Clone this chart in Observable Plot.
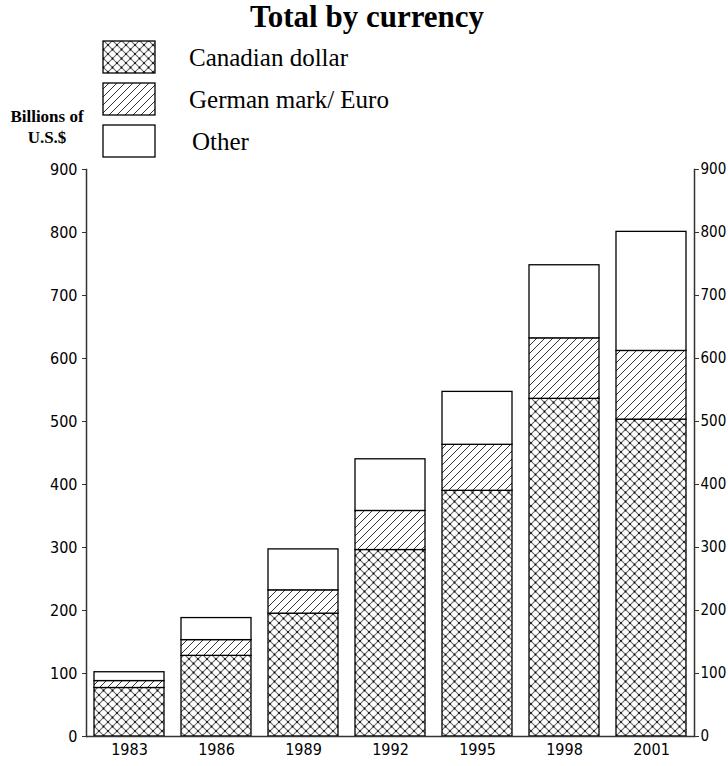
<!DOCTYPE html>
<html><head><meta charset="utf-8">
<script src="https://cdn.jsdelivr.net/npm/d3@7"></script>
<script src="https://cdn.jsdelivr.net/npm/@observablehq/plot@0.6"></script>
<style>
body{margin:0;background:#fff;}
#wrap{position:relative;width:728px;height:766px;overflow:hidden;background:#fff;}
#head{position:absolute;left:0;top:0;z-index:2;}
#chart{position:absolute;left:0;top:155px;z-index:1;}
</style></head>
<body>
<svg width="0" height="0" style="position:absolute">
  <defs>
    <pattern id="cross" patternUnits="userSpaceOnUse" width="9" height="9">
      <rect width="9" height="9" fill="white"/>
      <path d="M0,0L9,9M9,0L0,9" stroke="#6a6a6a" stroke-width="1.1"/>
      <circle cx="4.5" cy="4.5" r="0.9" fill="black"/>
      <circle cx="0" cy="0" r="0.9" fill="black"/>
      <circle cx="9" cy="0" r="0.9" fill="black"/>
      <circle cx="0" cy="9" r="0.9" fill="black"/>
      <circle cx="9" cy="9" r="0.9" fill="black"/>
    </pattern>
    <pattern id="hatch" patternUnits="userSpaceOnUse" width="8" height="8">
      <rect width="8" height="8" fill="white"/>
      <path d="M-2,10L10,-2M-2,2L2,-2M6,10L10,6" stroke="#333" stroke-width="1"/>
    </pattern>
  </defs>
</svg>
<div id="wrap">
  <div id="chart"></div>
  <svg id="head" width="728" height="160"></svg>
</div>
<script>
const years = ["1983","1986","1989","1992","1995","1998","2001"];
const currencies = ["Canadian dollar","German mark/ Euro","Other"];
const canadian = [77, 128, 195, 296, 390, 536, 503];
const german   = [11, 25, 37, 62, 73, 96, 109];
const other    = [14, 35, 65, 82, 84, 116, 189];
const yTicks = [0,100,200,300,400,500,600,700,800,900];
const patterns = ["url(#cross)","url(#hatch)","white"];

const series = [canadian, german, other];
const data = years.flatMap((yr,i)=>currencies.map((c,j)=>({year:yr, currency:c, value:series[j][i]})));

// Header: title, legend, unit label
const serif = '"Liberation Serif","Times New Roman",serif';
const head = d3.select("#head");
head.append("text").attr("x",367).attr("y",27).attr("text-anchor","middle")
  .attr("font-family",serif).attr("font-weight","bold")
  .attr("font-size",31).text("Total by currency");
const legY = [41,83,125];
const legX = [189,189,192];
currencies.forEach((c,j)=>{
  head.append("rect").attr("x",103).attr("y",legY[j]).attr("width",52).attr("height",32)
    .attr("fill",patterns[j]).attr("stroke","black").attr("stroke-width",1.3);
  head.append("text").attr("x",legX[j]).attr("y",legY[j]+16).attr("dy","0.35em")
    .attr("font-family",serif).attr("font-size",25).text(c);
});
const unit = head.append("text").attr("text-anchor","middle")
  .attr("font-family",serif).attr("font-weight","bold").attr("font-size",17);
unit.append("tspan").attr("x",47).attr("y",122).text("Billions of");
unit.append("tspan").attr("x",47).attr("y",143).text("U.S.$");

const plot = Plot.plot({
  width:728, height:611,
  marginLeft:86, marginRight:34, marginTop:14, marginBottom:30,
  style:{fontFamily:'"DejaVu Sans Condensed","DejaVu Sans",sans-serif', fontStretch:"condensed", fontSize:"16px", color:"black", background:"transparent", overflow:"visible"},
  x:{type:"band", domain:years, paddingInner:0.195, paddingOuter:0.09, label:null},
  y:{domain:[0,900], label:null},
  color:{type:"ordinal", domain:currencies, range:patterns},
  marks:[
    Plot.barY(data,{x:"year", y:"value", fill:"currency", stroke:"black", strokeWidth:1.3}),
    Plot.ruleY([0],{stroke:"#333", strokeWidth:1.5}),
    Plot.frame({anchor:"left", stroke:"#333", strokeWidth:1.5}),
    Plot.frame({anchor:"right", stroke:"#333", strokeWidth:1.5}),
    Plot.axisY(yTicks,{anchor:"left", tickSize:4, tickPadding:5, label:null, stroke:"#333"}),
    Plot.axisY(yTicks,{anchor:"right", tickSize:4, tickPadding:2, fontSize:15, label:null, stroke:"#333"}),
    Plot.axisX({tickSize:0, tickPadding:7, label:null})
  ]
});
document.getElementById("chart").appendChild(plot);
</script>
</body></html>
